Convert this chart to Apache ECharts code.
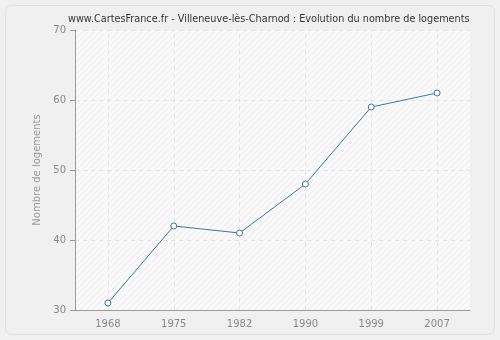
<!DOCTYPE html>
<html><head><meta charset="utf-8">
<script src="https://cdn.jsdelivr.net/npm/echarts@6/dist/echarts.min.js"></script>
<style>html,body{margin:0;padding:0;background:#f0f0f0;}#c{width:500px;height:340px;}</style>
</head><body><div id="c"></div>
<script>
const titleText = "www.CartesFrance.fr - Villeneuve-lès-Charnod : Evolution du nombre de logements";
const years = ["1968", "1975", "1982", "1990", "1999", "2007"];
const logements = [31, 42, 41, 48, 59, 61];
const yTicks = [30, 40, 50, 60, 70];

const pc = document.createElement('canvas');
pc.width = 6; pc.height = 6;
const g = pc.getContext('2d');
g.fillStyle = '#f9f9f9'; g.fillRect(0,0,6,6);
g.strokeStyle = '#eeeeee'; g.lineWidth = 1;
g.beginPath(); g.moveTo(0,6); g.lineTo(6,0); g.moveTo(-1,1); g.lineTo(1,-1); g.moveTo(5,7); g.lineTo(7,5); g.stroke();

const gridLine = {color:'#e4e4e4', type:[4,4], width:1};

const chart = echarts.init(document.getElementById('c'));
chart.setOption({
  animation: false,
  backgroundColor: '#f0f0f0',
  graphic: [{type:'rect', shape:{x:5.5,y:5.5,width:489,height:329,r:6}, style:{fill:'#f0f0f0', stroke:'#e2e2e2', lineWidth:1}, z:-10}],
  title: {text: titleText, left: 63, top: 9, textStyle:{fontFamily:'DejaVu Sans', fontSize:9.7, fontWeight:'normal', color:'#333'}},
  grid: {left:75, right:30, top:30, bottom:30, show:true, backgroundColor:{image: pc, repeat:'repeat'}, borderWidth:0},
  xAxis: {type:'category', data: years, boundaryGap:true,
    axisLine:{lineStyle:{color:'#999'}}, axisTick:{alignWithLabel:true, length:5, lineStyle:{color:'#999'}},
    axisLabel:{color:'#888', fontFamily:'DejaVu Sans', fontSize:10, margin:9},
    splitLine:{show:false}},
  yAxis: {type:'value', min: yTicks[0], max: yTicks[yTicks.length-1], interval:10,
    name:'Nombre de logements', nameLocation:'middle', nameGap:29,
    nameTextStyle:{color:'#999', fontFamily:'DejaVu Sans', fontSize:10},
    axisLine:{show:true, lineStyle:{color:'#999'}}, axisTick:{show:true, length:5, lineStyle:{color:'#999'}},
    axisLabel:{color:'#888', fontFamily:'DejaVu Sans', fontSize:10, margin:9},
    splitLine:{show:true, lineStyle:gridLine}},
  series: [{type:'line', data: logements, symbol:'circle', symbolSize:6, z:5,
    lineStyle:{color:'#4672a6', width:1}, itemStyle:{color:'#fff', borderColor:'#4672a6', borderWidth:1},
    markLine:{silent:true, symbol:'none', label:{show:false}, lineStyle:gridLine, z:1,
      data: years.map(y => ({xAxis: y}))}}]
});
</script></body></html>
